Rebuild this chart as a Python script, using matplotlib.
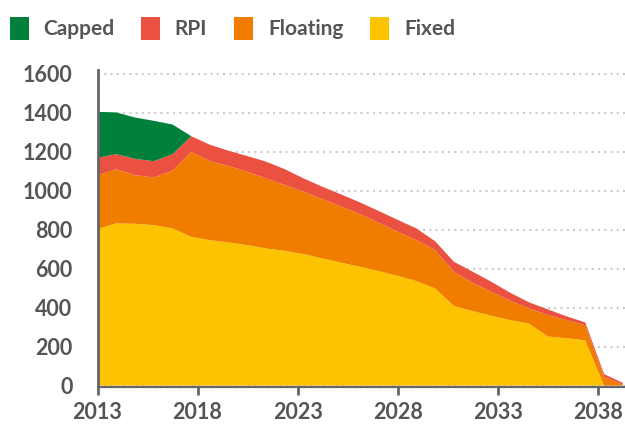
import matplotlib
matplotlib.use('Agg')
import matplotlib.pyplot as plt
import numpy as np

# 29 evenly spaced periods from 2013 onwards
periods = np.linspace(2013, 2039.25, 29)

fixed = [803, 832, 830, 823, 806, 763, 746, 734, 720, 703, 691, 674, 652, 630,
         609, 587, 563, 536, 498, 408, 382, 358, 336, 318, 252, 243, 232, 0, 0]
floating = [276, 277, 249, 245, 296, 436, 405, 392, 377, 359, 337, 320, 304, 288,
            270, 248, 226, 210, 197, 176, 145, 123, 99, 78, 110, 93, 77, 45, 5]
rpi = [89, 78, 84, 83, 85, 80, 84, 78, 80, 86, 81, 68, 63, 62,
       60, 60, 61, 60, 45, 51, 57, 51, 41, 31, 29, 19, 15, 14, 9]
capped = [236, 214, 212, 207, 152, 0, 0, 0, 0, 0, 0, 0, 0, 0,
          0, 0, 0, 0, 0, 0, 0, 0, 0, 0, 0, 0, 0, 0, 0]

series_names = ['Fixed', 'Floating', 'RPI', 'Capped']
colors = ['#FDC300', '#F07D00', '#EB5141', '#00803A']
xticks = [2013, 2018, 2023, 2028, 2033, 2038]
yticks = [0, 200, 400, 600, 800, 1000, 1200, 1400, 1600]

text_col = '#555555'
axis_col = '#666666'
plt.rcParams['font.family'] = ['Lato', 'DejaVu Sans']
plt.rcParams['font.weight'] = 'bold'

fig = plt.figure(figsize=(6.25, 4.25), dpi=100)
ax = fig.add_axes([0.156, 0.090, 0.844, 0.745])

polys = ax.stackplot(periods, fixed, floating, rpi, capped,
                     colors=colors, labels=series_names, linewidth=0)

ax.set_xlim(2013, 2039.36)
ax.set_ylim(-6, 1618)
ax.set_xticks(xticks)
ax.set_yticks(yticks)
ax.set_xticklabels([str(t) for t in xticks])

ax.set_axisbelow(True)
ax.yaxis.grid(True, color='#cccccc', linewidth=1.5, linestyle=(0, (1, 2)))

for side in ['top', 'right']:
    ax.spines[side].set_visible(False)
ax.spines['left'].set_color(axis_col)
ax.spines['left'].set_linewidth(2)
ax.spines['bottom'].set_color(axis_col)
ax.spines['bottom'].set_linewidth(1.6)

ax.tick_params(axis='x', direction='out', length=6, width=2, color=axis_col,
               labelsize=15.5, labelcolor=text_col, pad=5)
ax.tick_params(axis='y', length=0, labelsize=15.5, labelcolor=text_col, pad=18)
for lbl in ax.get_xticklabels() + ax.get_yticklabels():
    lbl.set_fontweight('bold')

# legend in reverse stacking order
handles, labels = ax.get_legend_handles_labels()
leg = fig.legend(handles[::-1], labels[::-1], loc='upper left',
                 bbox_to_anchor=(-0.008, 0.995), ncol=4, frameon=False,
                 fontsize=15, handlelength=0.91, handleheight=1.32,
                 handletextpad=0.7, columnspacing=1.3, borderaxespad=0.3)
for t in leg.get_texts():
    t.set_color(text_col)
    t.set_fontweight('bold')

fig.savefig('out.png', dpi=100)
